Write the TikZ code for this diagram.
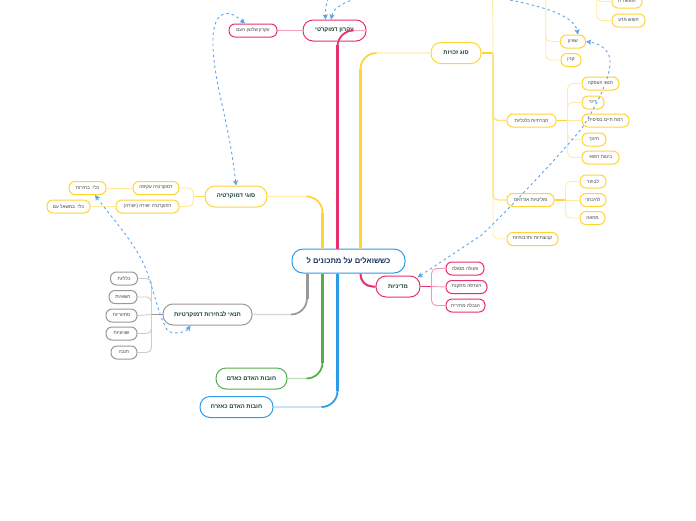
\documentclass[tikz,border=0pt]{standalone}
\usepackage{fontspec}
\usetikzlibrary{arrows.meta}
\TeXXeTstate=1
\newfontfamily\hbfont[Script=Hebrew]{Liberation Sans}
\newcommand{\rl}[1]{\beginR #1\endR}
\definecolor{yel}{HTML}{FFD534}
\definecolor{pnk}{HTML}{E8306E}
\definecolor{blu}{HTML}{2E9BE6}
\definecolor{grn}{HTML}{55AC4C}
\definecolor{gry}{HTML}{999999}
\definecolor{dsh}{HTML}{5AA5EE}
\definecolor{txt}{HTML}{173F38}
\definecolor{rtxt}{HTML}{14305A}
\tikzset{
 base/.style={draw,fill=white,line width=1pt,inner sep=0pt,text=txt,anchor=center,font=\hbfont\fontsize{5.9}{6.5}\selectfont\bfseries},
 leaf/.style={base,rounded corners=6pt,minimum height=13pt,text=black!75,font=\hbfont\fontsize{4.7}{5.5}\selectfont},
 mainn/.style={base,rounded corners=10pt,minimum height=21pt},
 rootn/.style={base,draw=blu,rounded corners=11pt,minimum width=113pt,minimum height=24pt,text=rtxt,font=\hbfont\fontsize{7.6}{9}\selectfont\bfseries},
 twig/.style={line width=0.9pt,rounded corners=5pt},
 dashlink/.style={dsh,line width=0.9pt,dash pattern=on 2.5pt off 3pt,{Stealth[length=5pt,width=5pt,inset=0.8pt]}-{Stealth[length=5pt,width=5pt,inset=0.8pt]}},
 dashend/.style={dsh,line width=0.9pt,dash pattern=on 2.5pt off 3pt,-{Stealth[length=5pt,width=5pt,inset=0.8pt]}},
}
\newcommand{\trunk}[5]{%
 \draw[#1!40!white,line width=1.1pt,rounded corners=16pt] (#2) |- (#3);
 \draw[#1,line width=1.7pt,rounded corners=16pt] (#2) |- ([xshift=#4pt]#2 |- #3);
 \draw[#1,line width=3pt] (#2) -- ([yshift=#5pt]#2 |- #3);
}
\begin{document}
\begin{tikzpicture}[x=1pt,y=-1pt]
\useasboundingbox (0,0) rectangle (696,520);
\clip (0,0) rectangle (696,520);
\fill[white] (0,0) rectangle (696,520);
% nodes
\node[rootn] (root) at (348.5,261) {\rl{כששואלים על מתכונים ל}};
\node[mainn,draw=pnk,minimum width=63pt] (ekron) at (334.5,30.5) {\rl{עקרון דמוקרטי}};
\node[leaf,draw=pnk,minimum width=48pt] (shilton) at (253,30.5) {\rl{עקרון שלטון העם}};
\node[mainn,draw=yel,minimum width=50pt] (zhuyot) at (456,53) {\rl{סוג זכויות}};
\node[leaf,draw=yel,minimum width=30pt] (dat) at (627,1.5) {\rl{חופש דת}};
\node[leaf,draw=yel,minimum width=33pt] (mada) at (628.5,20.5) {\rl{חופש מדע}};
\node[leaf,draw=yel,minimum width=25pt] (shivyon) at (573,41.5) {\rl{שוויון}};
\node[leaf,draw=yel,minimum width=20pt] (kinyan) at (571,60) {\rl{קנין}};
\node[leaf,draw=yel,minimum width=49pt] (hevra) at (531.5,120.5) {\rl{חברתיות כלכליות}};
\node[leaf,draw=yel,minimum width=37pt] (tnai) at (600.5,83.5) {\rl{תנאי העסקה}};
\node[leaf,draw=yel,minimum width=22pt] (diur) at (593,102.5) {\rl{דיור}};
\node[leaf,draw=yel,minimum width=47pt] (ramat) at (605.5,120.5) {\rl{רמת חיים בסיסית}};
\node[leaf,draw=yel,minimum width=24pt] (hinuch) at (594,139.5) {\rl{חינוך}};
\node[leaf,draw=yel,minimum width=37pt] (bituah) at (600.5,157.5) {\rl{ביטוח רפואי}};
\node[leaf,draw=yel,minimum width=47pt] (polit) at (530.5,200) {\rl{פוליטיות אזרחיות}};
\node[leaf,draw=yel,minimum width=26pt] (livhor) at (593,181.5) {\rl{לבחור}};
\node[leaf,draw=yel,minimum width=26pt] (lehibaher) at (593,200) {\rl{להיבחר}};
\node[leaf,draw=yel,minimum width=25pt] (mehaa) at (592.5,218) {\rl{מחאה}};
\node[leaf,draw=yel,minimum width=51pt] (kvutz) at (532.5,239) {\rl{קבוצתיות ותרבותיות}};
\node[mainn,draw=pnk,minimum width=44pt] (mediniut) at (398,286.5) {\rl{מדיניות}};
\node[leaf,draw=pnk,minimum width=38pt] (peula) at (465,268.5) {\rl{פעולה מסולה}};
\node[leaf,draw=pnk,minimum width=41pt] (hadafa) at (466.5,287) {\rl{העדפה מתקנת}};
\node[leaf,draw=pnk,minimum width=39pt] (hagbala) at (465.5,305.5) {\rl{הגבלה מחירית}};
\node[mainn,draw=yel,minimum width=62pt] (sug) at (236,196.5) {\rl{סוגי דמוקרטיה}};
\node[leaf,draw=yel,minimum width=46pt] (akifa) at (156,188) {\rl{דמוקרטיה עקיפה}};
\node[leaf,draw=yel,minimum width=63pt] (yeshira) at (147.5,206.5) {\rl{דמוקרטיה ישירה (ישירה)}};
\node[leaf,draw=yel,minimum width=37pt] (klib) at (87.5,188) {\rl{כלי: בחירות}};
\node[leaf,draw=yel,minimum width=43pt] (klim) at (68.5,206.5) {\rl{כלי: במשאל עם}};
\node[mainn,draw=gry,minimum width=89pt] (bhirot) at (207.5,314.5) {\rl{תנאי לבחירות דמוקרטיות}};
\node[leaf,draw=gry,minimum width=27pt] (klaliot) at (124,278.5) {\rl{כלליות}};
\node[leaf,draw=gry,minimum width=28pt] (hashaiot) at (123,297) {\rl{חשאיות}};
\node[leaf,draw=gry,minimum width=31pt] (mahzor) at (121.5,315.5) {\rl{מחזוריות}};
\node[leaf,draw=gry,minimum width=31pt] (shivyoni) at (121.5,333.5) {\rl{שוויוניות}};
\node[leaf,draw=gry,minimum width=26pt] (hova) at (124,352.5) {\rl{חובה}};
\node[mainn,draw=grn,minimum width=71pt] (adam) at (251.5,378.5) {\rl{חובות האדם כאדם}};
\node[mainn,draw=blu,minimum width=73pt] (ezrah) at (236.5,407) {\rl{חובות האדם כאזרח}};
% connector start points
\coordinate (tp) at ([xshift=-11pt]root.north);
\coordinate (ty) at ([xshift=12pt]root.north);
\coordinate (tl) at ([xshift=-26pt]root.north);
\coordinate (bg) at ([xshift=-41.5pt]root.south);
\coordinate (bn) at ([xshift=-26pt]root.south);
\coordinate (bb) at ([xshift=-11pt]root.south);
\coordinate (bp) at ([xshift=12pt]root.south);
% trunks
\trunk{pnk}{tp}{ekron.east}{14}{-14}
\trunk{yel}{ty}{zhuyot.west}{16}{-16}
\trunk{yel}{tl}{sug.east}{-16}{-16}
\trunk{gry}{bg}{bhirot.east}{-16}{16}
\trunk{grn}{bn}{adam.east}{-16}{16}
\trunk{blu}{bb}{ezrah.east}{-16}{16}
\draw[pnk,line width=2pt,rounded corners=12pt] (bp) |- (mediniut.west);
% pink branches
\draw[pnk!45!white,line width=0.9pt] (ekron.west) -- (shilton.east);
\coordinate (mj) at ([xshift=11pt]mediniut.east);
\draw[pnk,line width=1.6pt] (mediniut.east) -- (mj);
\foreach \n in {peula,hagbala} \draw[pnk!50!white,twig] (mj) |- (\n.west);
\draw[pnk!50!white,line width=0.9pt] (mj) -- (hadafa.west);
% yellow branches
\coordinate (yj) at ([xshift=11.5pt]zhuyot.east);
\coordinate (yt1) at (492.5,-10);
\coordinate (yt2) at (545.7,-10);
\coordinate (yt3) at (596.7,-10);
\draw[yel,line width=1.6pt] (zhuyot.east) -- (yj);
\draw[yel!40!white,line width=0.9pt] (yt1) -- (yj);
\draw[yel!45!white,twig] (yj) |- (kvutz.west);
\draw[yel!70!white,twig,line width=1.1pt] (yj) |- (polit.west);
\draw[yel!70!white,twig,line width=1.3pt] (yj) |- (hevra.west);
\foreach \n in {shivyon,kinyan} \draw[yel!45!white,twig] (yt2) |- (\n.west);
\foreach \n in {dat,mada} \draw[yel!45!white,twig] (yt3) |- (\n.west);
\coordinate (hj) at ([xshift=11pt]hevra.east);
\draw[yel,line width=1.6pt] (hevra.east) -- (hj);
\foreach \n in {tnai,diur,hinuch,bituah} \draw[yel!45!white,twig] (hj) |- (\n.west);
\draw[yel!45!white,line width=0.9pt] (hj) -- (ramat.west);
\coordinate (pj) at ([xshift=11pt]polit.east);
\draw[yel,line width=1.6pt] (polit.east) -- (pj);
\foreach \n in {livhor,mehaa} \draw[yel!45!white,twig] (pj) |- (\n.west);
\draw[yel!45!white,line width=0.9pt] (pj) -- (lehibaher.west);
\coordinate (sj) at ([xshift=-11pt]sug.west);
\draw[yel!80!white,line width=1.6pt] (sug.west) -- (sj);
\foreach \n in {akifa,yeshira} \draw[yel!50!white,twig] (sj) |- (\n.east);
\draw[yel!50!white,line width=0.9pt] (akifa.west) -- (klib.east);
\draw[yel!50!white,line width=0.9pt] (yeshira.west) -- (klim.east);
% gray branches
\coordinate (gj) at ([xshift=-11pt]bhirot.west);
\draw[gry,line width=1.6pt] (bhirot.west) -- (gj);
\foreach \n in {klaliot,hashaiot,shivyoni,hova} \draw[gry!50!white,twig] (gj) |- (\n.east);
\draw[gry!50!white,line width=0.9pt] (gj) -- (mahzor.east);
% dashed relations
\coordinate (off1) at (332,-12);
\draw[dashlink] (sug.north) .. controls (229,120) and (214,85) .. (213,45) .. controls (212,15) and (224,5) .. ([xshift=-8pt]shilton.north);
\draw[dashend] (off1) .. controls (328,-4) and (325,8) .. ([xshift=-9pt]ekron.north);
\draw[dashlink] ([xshift=-3.5pt]ekron.north) .. controls (333,10) and (340,4) .. (352,0) .. controls (400,-18) and (470,-12) .. (510,0) .. controls (540,6) and (574,15) .. ([xshift=5pt]shivyon.north);
\draw[dashlink] ([yshift=9pt,xshift=-3pt]mediniut.east) -- (481.7,235) .. controls (510,208) and (560,155) .. (582,128) .. controls (600,100) and (611,75) .. (610,60) .. controls (609,48) and (597,43) .. (shivyon.east);
\draw[dashlink] ([xshift=7.5pt]klib.south) .. controls (115,222) and (137,245) .. (147,272) .. controls (155,295) and (160,320) .. (168,331) .. controls (175,335) and (186,332) .. ([xshift=-17pt]bhirot.south);
\end{tikzpicture}
\end{document}
